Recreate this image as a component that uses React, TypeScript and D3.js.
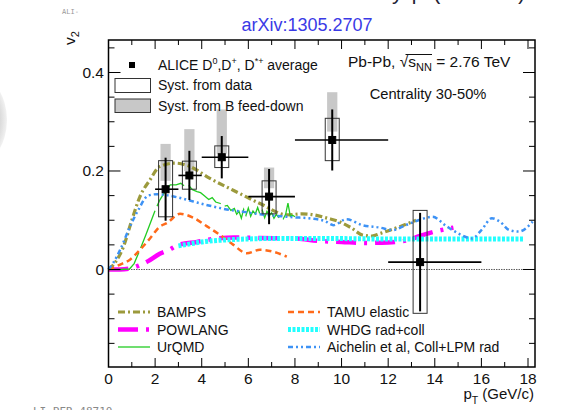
import React from 'react';
import * as d3 from 'd3';

// ALICE D-meson v2, Pb-Pb 2.76 TeV, 30-50%
const ptPoints = [2.45, 3.47, 4.86, 6.89, 9.6, 13.37];
const ptLow = [2, 3, 4, 6, 8, 12];
const ptHigh = [3, 4, 6, 8, 12, 16];
const v2Values = [0.163, 0.191, 0.228, 0.148, 0.263, 0.015];
const statErr = [0.064, 0.05, 0.043, 0.056, 0.062, 0.1];
const systDataLow = [0.107, 0.163, 0.207, 0.113, 0.221, -0.089];
const systDataHigh = [0.221, 0.22, 0.251, 0.18, 0.307, 0.12];
const systFeedLow = [0.18, 0.2, 0.235, 0.165, 0.28, null];
const systFeedHigh = [0.255, 0.285, 0.325, 0.207, 0.36, null];

// model curves, [pT, v2]
const bamps: [number, number][] = [
  [0, 0], [0.3, 0.015], [0.64, 0.046], [1.0, 0.1], [1.35, 0.148], [1.78, 0.182], [2.2, 0.209],
  [2.85, 0.216], [3.5, 0.209], [4.35, 0.185], [5.35, 0.161], [6.5, 0.134], [7.65, 0.111],
  [8.3, 0.113], [8.8, 0.111], [9.4, 0.104], [9.9, 0.097], [10.4, 0.085], [10.9, 0.07],
  [11.3, 0.068], [11.65, 0.073], [12.5, 0.087], [13.2, 0.1],
];
const powlang: [number, number][] = [
  [0, 0], [0.5, 0], [1.0, 0.003], [1.3, 0.008], [1.7, 0.017], [2.2, 0.032], [2.6, 0.04],
  [3.0, 0.05], [3.8, 0.056], [4.5, 0.062], [5.4, 0.065], [6.5, 0.064], [8, 0.063], [9, 0.058],
  [10, 0.056], [11, 0.054], [12, 0.055], [12.9, 0.06], [13.3, 0.067], [14, 0.077], [14.8, 0.085],
];
const urqmd: [number, number][] = [
  [0, 0], [0.5, 0], [0.9, 0.001], [1.1, 0.012], [1.35, 0.04], [1.6, 0.07], [1.8, 0.095],
  [2.0, 0.12], [2.2, 0.141], [2.45, 0.16], [2.65, 0.172], [2.9, 0.172], [3.1, 0.175],
  [3.3, 0.168], [3.45, 0.17], [3.6, 0.162], [3.8, 0.158], [3.95, 0.156], [4.1, 0.15],
  [4.3, 0.142], [4.45, 0.146], [4.6, 0.137], [4.8, 0.134], [4.95, 0.128], [5.1, 0.13],
  [5.25, 0.12], [5.4, 0.124], [5.5, 0.112], [5.6, 0.118], [5.7, 0.104], [5.8, 0.122],
  [5.9, 0.11], [6.0, 0.125], [6.1, 0.108], [6.2, 0.119], [6.3, 0.113], [6.4, 0.126],
  [6.5, 0.112], [6.6, 0.12], [6.7, 0.105], [6.8, 0.118], [6.9, 0.109], [7.0, 0.115],
  [7.1, 0.104], [7.2, 0.112], [7.3, 0.106], [7.4, 0.11], [7.5, 0.103], [7.6, 0.112],
  [7.7, 0.135], [7.8, 0.108], [7.9, 0.11], [8.0, 0.107],
];
const tamu: [number, number][] = [
  [0, 0], [0.5, 0.01], [0.92, 0.02], [1.35, 0.04], [1.78, 0.063], [2.2, 0.087], [2.5, 0.094],
  [3.07, 0.113], [3.64, 0.105], [4.21, 0.088], [4.79, 0.07], [5.36, 0.05], [5.93, 0.033],
  [6.5, 0.04], [7.07, 0.036], [7.65, 0.026],
];
const whdg: [number, number][] = [
  [3.0, 0.048], [3.5, 0.052], [4, 0.056], [5, 0.06], [6, 0.062], [7, 0.063], [9, 0.063],
  [12, 0.062], [15, 0.062], [17.8, 0.062],
];
const aichelin: [number, number][] = [
  [0, 0], [0.2, 0.013], [0.5, 0.04], [0.92, 0.087], [1.28, 0.121], [1.7, 0.15], [2.1, 0.153],
  [2.5, 0.151], [3.0, 0.146], [3.64, 0.138], [4.3, 0.13], [5.07, 0.122], [5.8, 0.117],
  [6.5, 0.112], [7.2, 0.109], [7.93, 0.106], [8.6, 0.104], [9.3, 0.098], [9.65, 0.09],
  [10.2, 0.102], [10.9, 0.09], [11.65, 0.085], [12.2, 0.08], [12.75, 0.09], [13.3, 0.1],
  [13.9, 0.107], [14.5, 0.088], [15.1, 0.071], [15.6, 0.063], [16.0, 0.08], [16.45, 0.104],
  [16.8, 0.097], [17.2, 0.08], [17.6, 0.077], [18.2, 0.097],
];

const xTickLabels = [0, 2, 4, 6, 8, 10, 12, 14, 16, 18];
const yTickLabels = [0, 0.2, 0.4];

const models = [
  { name: 'BAMPS', data: bamps, color: '#9c9a3c', width: 3.2, dash: '7 3 2 3', col: 0 },
  { name: 'POWLANG', data: powlang, color: '#ff00ff', width: 4.5, dash: '20 8 3 8', col: 0 },
  { name: 'UrQMD', data: urqmd, color: '#22cc22', width: 1.3, dash: '40 5', col: 0 },
  { name: 'TAMU elastic', data: tamu, color: '#ff6a1a', width: 2.5, dash: '6 4', col: 1 },
  { name: 'WHDG rad+coll', data: whdg, color: '#22ffff', width: 5, dash: '3 1.5', col: 1 },
  { name: 'Aichelin et al, Coll+LPM rad', data: aichelin, color: '#3d92f5', width: 2.5, dash: '5 3 2 3 2 3', col: 1 },
];

const FONT = 'Liberation Sans, Arial, sans-serif';

export default function App() {
  const x = d3.scaleLinear().domain([0, 18.3]).range([108.5, 535]);
  const y = d3.scaleLinear().domain([-0.198, 0.466]).range([367, 40]);
  const [x0, x1] = x.range();
  const [yb, yt] = y.range();

  const line = d3.line<[number, number]>()
    .x((d) => x(d[0]))
    .y((d) => y(d[1]))
    .curve(d3.curveMonotoneX);
  const rough = d3.line<[number, number]>()
    .x((d) => x(d[0]))
    .y((d) => y(d[1]));

  const xMinor = d3.range(0, 18.5, 1);
  const yMinor = d3.range(-0.15, 0.466, 0.05);
  const isMajorY = (v: number) => yTickLabels.some((t) => Math.abs(t - v) < 1e-6);

  return (
    <svg width={562} height={410} style={{ position: 'absolute', left: 0, top: 0 }} fontFamily={FONT}>
      <defs>
        <radialGradient id="blob" cx="0.5" cy="0.5" r="0.5">
          <stop offset="0.7" stopColor="#d0d0d0" />
          <stop offset="1" stopColor="#f2f2f2" />
        </radialGradient>
      </defs>
      <rect width={562} height={410} fill="#fff" />
      {/* slide leftovers */}
      <ellipse cx={-26} cy={120} rx={33} ry={46} fill="url(#blob)" />
      <text x={62} y={14} fontSize={7} fill="#999" fontFamily="DejaVu Sans Mono">ALI-</text>
      <text x={33} y={415} fontSize={11} fill="#888" fontFamily="DejaVu Sans Mono">LI-PER-48710</text>
      <g fontSize={22} fill="#223">
        <text x={392} y={-1}>y</text>
        <text x={407} y={-1}>φ</text>
        <text x={433} y={-1}>(</text>
        <text x={518} y={-1}>)</text>
      </g>
      <text x={307} y={31} textAnchor="middle" fontSize={18} fill="#3a3ae6">arXiv:1305.2707</text>

      {/* B feed-down systematics */}
      {ptPoints.map((p, i) =>
        systFeedHigh[i] == null ? null : (
          <rect key={'f' + i} x={x(p - 0.22)} width={x(p + 0.22) - x(p - 0.22)}
            y={y(systFeedHigh[i] as number)} height={y(systFeedLow[i] as number) - y(systFeedHigh[i] as number)}
            fill="#c8c8c8" />
        ))}

      {/* zero line */}
      <line x1={x(0)} x2={x(17.8)} y1={y(0)} y2={y(0)} stroke="#333" strokeWidth={0.8} strokeDasharray="1.5 1" />

      {/* models */}
      {models.map((m) => (
        <path key={m.name} d={(m.name === 'UrQMD' ? rough : line)(m.data) || ''} fill="none"
          stroke={m.color} strokeWidth={m.width} strokeDasharray={m.dash} />
      ))}

      {/* data systematics */}
      {ptPoints.map((p, i) => (
        <rect key={'s' + i} x={x(p - 0.3)} width={x(p + 0.3) - x(p - 0.3)}
          y={y(systDataHigh[i])} height={y(systDataLow[i]) - y(systDataHigh[i])}
          fill="none" stroke="#333" strokeWidth={1} />
      ))}
      {/* error bars */}
      {ptPoints.map((p, i) => (
        <g key={'e' + i} stroke="#000">
          <line x1={x(ptLow[i])} x2={x(ptHigh[i])} y1={y(v2Values[i])} y2={y(v2Values[i])} strokeWidth={1.6} />
          <line x1={x(p)} x2={x(p)} y1={y(v2Values[i] + statErr[i])} y2={y(v2Values[i] - statErr[i])} strokeWidth={2} />
          <rect x={x(p) - 3.5} y={y(v2Values[i]) - 3.5} width={7} height={7} fill="#000" />
        </g>
      ))}

      {/* frame and ticks */}
      <rect x={x0} y={yt} width={x1 - x0} height={yb - yt} fill="none" stroke="#000" strokeWidth={1.5} />
      {xMinor.map((v) => {
        const len = v % 2 === 0 ? 9 : 5;
        return (
          <g key={'xt' + v} stroke="#000" strokeWidth={1}>
            <line x1={x(v)} x2={x(v)} y1={yb} y2={yb - len} />
            <line x1={x(v)} x2={x(v)} y1={yt} y2={yt + len} />
          </g>
        );
      })}
      {yMinor.map((v) => {
        const len = isMajorY(v) ? 12 : 6;
        return (
          <g key={'yt' + v.toFixed(2)} stroke="#000" strokeWidth={1}>
            <line x1={x0} x2={x0 + len} y1={y(v)} y2={y(v)} />
            <line x1={x1} x2={x1 - len} y1={y(v)} y2={y(v)} />
          </g>
        );
      })}
      <g fontSize={15.5} fill="#111">
        {xTickLabels.map((v) => (
          <text key={'xl' + v} x={x(v)} y={384} textAnchor="middle">{v}</text>
        ))}
        {yTickLabels.map((v) => (
          <text key={'yl' + v} x={104} y={y(v) + 5.5} textAnchor="end">{v === 0 ? '0' : v.toFixed(1)}</text>
        ))}
        <text x={534} y={399} textAnchor="end" fontSize={15}>p<tspan fontSize={10.5} dy={5}>T</tspan><tspan dy={-5}> (GeV/c)</tspan></text>
        <text transform="translate(75,31) rotate(-90)" textAnchor="end">v<tspan fontSize={11} dy={4}>2</tspan></text>
      </g>

      {/* top legend */}
      <g fontSize={14} fill="#111">
        <rect x={129} y={62} width={6} height={6} fill="#000" />
        <text x={158} y={70}>ALICE D<tspan fontSize={9} dy={-6}>0</tspan><tspan dy={6}>,D</tspan><tspan fontSize={9} dy={-6}>+</tspan><tspan dy={6}>, D</tspan><tspan fontSize={9} dy={-6}>*+</tspan><tspan dy={6}> average</tspan></text>
        <rect x={115} y={78.5} width={35.5} height={14} fill="none" stroke="#333" strokeWidth={1} />
        <text x={158} y={90}>Syst. from data</text>
        <rect x={115} y={99} width={35.5} height={13.5} fill="#c8c8c8" stroke="#333" strokeWidth={1} />
        <text x={158} y={110.5}>Syst. from B feed-down</text>
      </g>
      <g fill="#111">
        <text x={348} y={67} fontSize={15.5}>Pb-Pb, √<tspan>s<tspan fontSize={11} dy={4}>NN</tspan></tspan><tspan dy={-4}> = 2.76 TeV</tspan></text>
        <line x1={405.5} x2={432} y1={54.5} y2={54.5} stroke="#111" strokeWidth={1} />
        <text x={428} y={99} fontSize={14.7} textAnchor="middle">Centrality 30-50%</text>
      </g>

      {/* model legend */}
      <g fontSize={14} fill="#111">
        {models.map((m, i) => {
          const row = i % 3;
          const lx = m.col === 0 ? 118 : 288;
          const ly = 312 + row * 17.5;
          return (
            <g key={'lg' + m.name}>
              <line x1={lx} x2={lx + 32} y1={ly} y2={ly} stroke={m.color}
                strokeWidth={m.name === 'WHDG rad+coll' ? 5 : Math.min(m.width, 4.5)} strokeDasharray={m.dash} />
              <text x={lx + 39} y={ly + 5}>{m.name}</text>
            </g>
          );
        })}
      </g>
    </svg>
  );
}
